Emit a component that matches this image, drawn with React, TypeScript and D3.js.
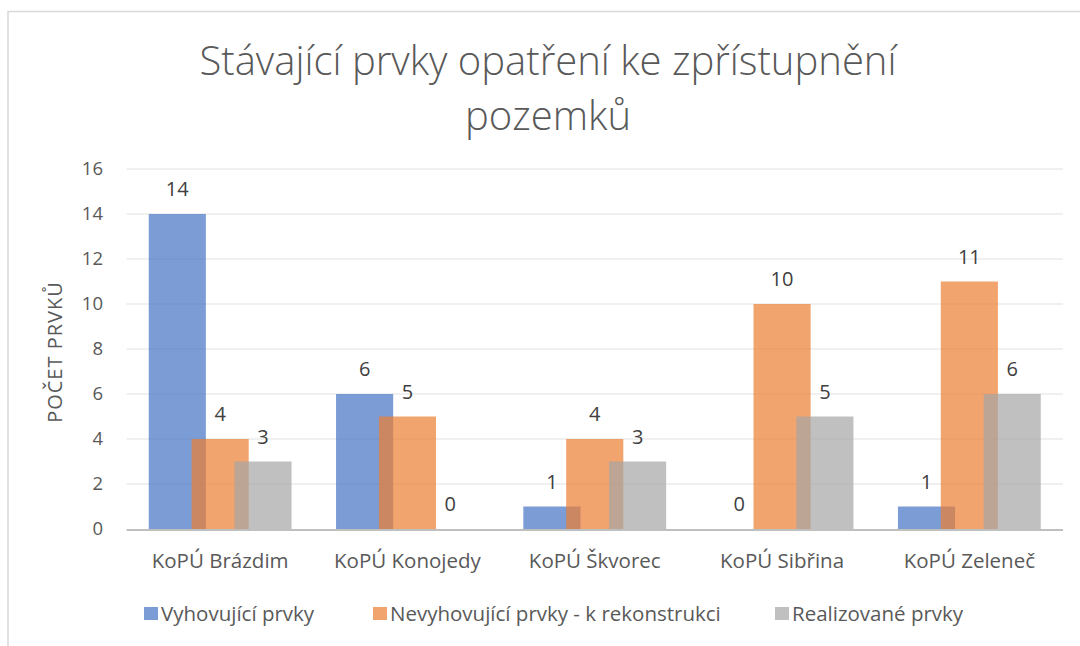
import React from "react";
import * as d3 from "d3";

const categories = ["KoPÚ Brázdim", "KoPÚ Konojedy", "KoPÚ Škvorec", "KoPÚ Sibřina", "KoPÚ Zeleneč"];
const seriesNames = ["Vyhovující prvky", "Nevyhovující prvky - k rekonstrukci", "Realizované prvky"];
const vyhovujici = [14, 6, 1, 0, 1];
const nevyhovujici = [4, 5, 4, 10, 11];
const realizovane = [3, 0, 3, 5, 6];
const yTicks = [0, 2, 4, 6, 8, 10, 12, 14, 16];
const colors = ["#4472C4", "#ED7D31", "#A5A5A5"];
const titleLines = ["Stávající prvky opatření ke zpřístupnění", "pozemků"];
const yAxisTitle = "POČET PRVKŮ";

const W = 1080;
const H = 646;
const plot = { left: 126.5, right: 1063, top: 169, bottom: 529 };
const FONT = "'Open Sans', 'Noto Sans', sans-serif";

export default function App() {
  const series = [vyhovujici, nevyhovujici, realizovane];
  const x = d3.scaleBand<string>().domain(categories).range([plot.left, plot.right]);
  const y = d3.scaleLinear().domain([0, 16]).range([plot.bottom, plot.top]);
  const bw = x.bandwidth();
  const barW = bw * 0.305;
  const step = barW * 0.75;
  const offsets = [-step, 0, step];

  const legendX = [144, 373, 775];

  return (
    <svg
      width={W}
      height={H}
      style={{ position: "absolute", left: 0, top: 0, background: "#fff" }}
      fontFamily={FONT}
    >
      <rect x={0} y={0} width={W} height={H} fill="#fff" />
      <rect x={8} y={11.5} width={W + 50} height={H + 50} fill="none" stroke="#d9d9d9" strokeWidth={1.5} />
      {titleLines.map((t, i) => (
        <text
          key={i}
          x={548}
          y={75 + i * 55}
          textAnchor="middle"
          fontSize={40}
          fontWeight={300}
          fill="#595959"
        >
          {t}
        </text>
      ))}
      {yTicks.map((t) => (
        <g key={t}>
          {t > 0 && (
            <line x1={plot.left} x2={plot.right} y1={y(t)} y2={y(t)} stroke="#ebebeb" strokeWidth={1.5} />
          )}
          <text x={103} y={y(t)} dy="0.35em" textAnchor="end" fontSize={18.5} fill="#595959">
            {t}
          </text>
        </g>
      ))}
      <text
        transform={`translate(55, ${(plot.top + plot.bottom) / 2 + 3}) rotate(-90)`}
        textAnchor="middle"
        dy="0.35em"
        fontSize={20}
        letterSpacing={1}
        fill="#595959"
      >
        {yAxisTitle}
      </text>
      {series.map((vals, si) =>
        vals.map((v, ci) => {
          const cx = (x(categories[ci]) as number) + bw / 2 + offsets[si];
          return (
            <rect
              key={`${si}-${ci}`}
              x={cx - barW / 2}
              y={y(v)}
              width={barW}
              height={plot.bottom - y(v)}
              fill={colors[si]}
              fillOpacity={0.7}
            />
          );
        })
      )}
      <line x1={plot.left} x2={plot.right} y1={plot.bottom + 1} y2={plot.bottom + 1} stroke="#bfbfbf" strokeWidth={2} />
      {series.map((vals, si) =>
        vals.map((v, ci) => {
          const cx = (x(categories[ci]) as number) + bw / 2 + offsets[si];
          return (
            <text
              key={`l${si}-${ci}`}
              x={cx}
              y={y(v) - 18}
              textAnchor="middle"
              fontSize={20}
              fill="#404040"
            >
              {v}
            </text>
          );
        })
      )}
      {categories.map((c) => (
        <text
          key={c}
          x={(x(c) as number) + bw / 2}
          y={567.5}
          textAnchor="middle"
          fontSize={20.5}
          fill="#595959"
        >
          {c}
        </text>
      ))}
      {seriesNames.map((n, i) => (
        <g key={n}>
          <rect x={legendX[i]} y={607} width={14} height={13} fill={colors[i]} fillOpacity={0.7} />
          <text x={legendX[i] + 17} y={621} fontSize={20.5} fill="#595959">
            {n}
          </text>
        </g>
      ))}
    </svg>
  );
}
